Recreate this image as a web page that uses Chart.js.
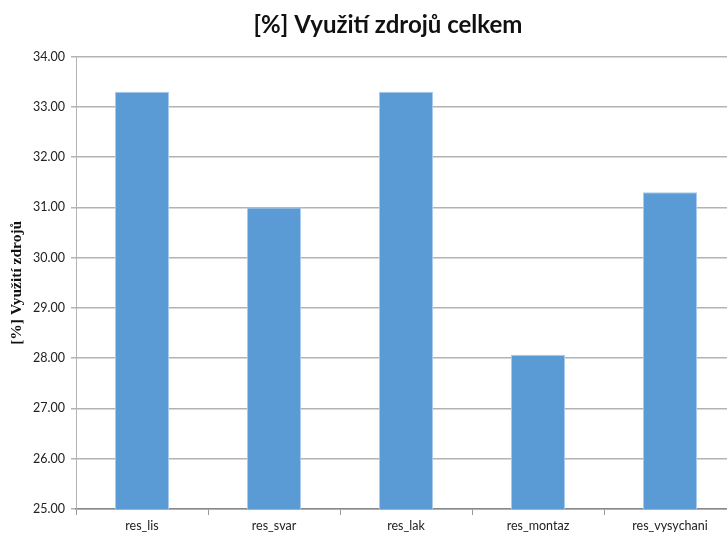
<!DOCTYPE html>
<html>
<head>
<meta charset="utf-8">
<script src="https://cdn.jsdelivr.net/npm/chart.js@4"></script>
<style>
  html, body { margin: 0; padding: 0; background: #fff; overflow: hidden; }
  #wrap { width: 776px; height: 536px; }
</style>
</head>
<body>
<div id="wrap"><canvas id="resChart"></canvas></div>
<script>
// využití jednotlivých zdrojů v procentech
const zdroje = ['res_lis', 'res_svar', 'res_lak', 'res_montaz', 'res_vysychani'];
const vyuziti = [33.30, 31.00, 33.30, 28.07, 31.30];

const ctx = document.getElementById('resChart');

// posun nadpisu nad střed vykreslovací plochy
const posunNadpisu = {
    id: 'posunNadpisu',
    afterLayout(chart) {
        if (chart.titleBlock) {
            chart.titleBlock.left = 40;
        }
    }
};

new Chart(ctx, {
    type: 'bar',
    data: {
        labels: zdroje,
        datasets: [{
            data: vyuziti,
            backgroundColor: '#5b9bd5',
            borderColor: '#a9cbeb',
            borderWidth: 1,
            categoryPercentage: 1,
            barPercentage: 0.41
        }]
    },
    options: {
        responsive: true,
        maintainAspectRatio: false,
        animation: false,
        layout: { padding: { top: 11, right: 40, bottom: 0, left: 0 } },
        plugins: {
            legend: { display: false },
            tooltip: { enabled: false },
            title: {
                display: true,
                text: '[%] Využití zdrojů celkem',
                color: '#111',
                font: { family: 'Lato', size: 24, weight: 'bold', lineHeight: 1.15 },
                padding: { top: 0, bottom: 18 }
            }
        },
        scales: {
            x: {
                offset: true,
                grid: {
                    offset: true,
                    drawOnChartArea: false,
                    tickLength: 6,
                    color: '#999'
                },
                border: { color: '#888', width: 1.5 },
                ticks: {
                    color: '#222',
                    padding: 3,
                    font: { family: 'Lato', size: 12.5 }
                }
            },
            y: {
                min: 25,
                max: 34,
                afterFit: function (scale) { scale.width = 76; },
                ticks: {
                    stepSize: 1,
                    color: '#222',
                    padding: 6,
                    font: { family: 'Lato', size: 12.5 },
                    callback: function (v) { return v.toFixed(2); }
                },
                grid: { color: '#b3b3b3', lineWidth: 1.5, tickLength: 5 },
                border: { color: '#b3b3b3', width: 1 },
                title: {
                    display: true,
                    text: '[%] Využití zdrojů',
                    color: '#111',
                    padding: { top: 8, bottom: 2 },
                    font: { family: 'Liberation Serif', size: 15.5, weight: 'bold' }
                }
            }
        }
    },
    plugins: [posunNadpisu]
});
</script>
</body>
</html>
